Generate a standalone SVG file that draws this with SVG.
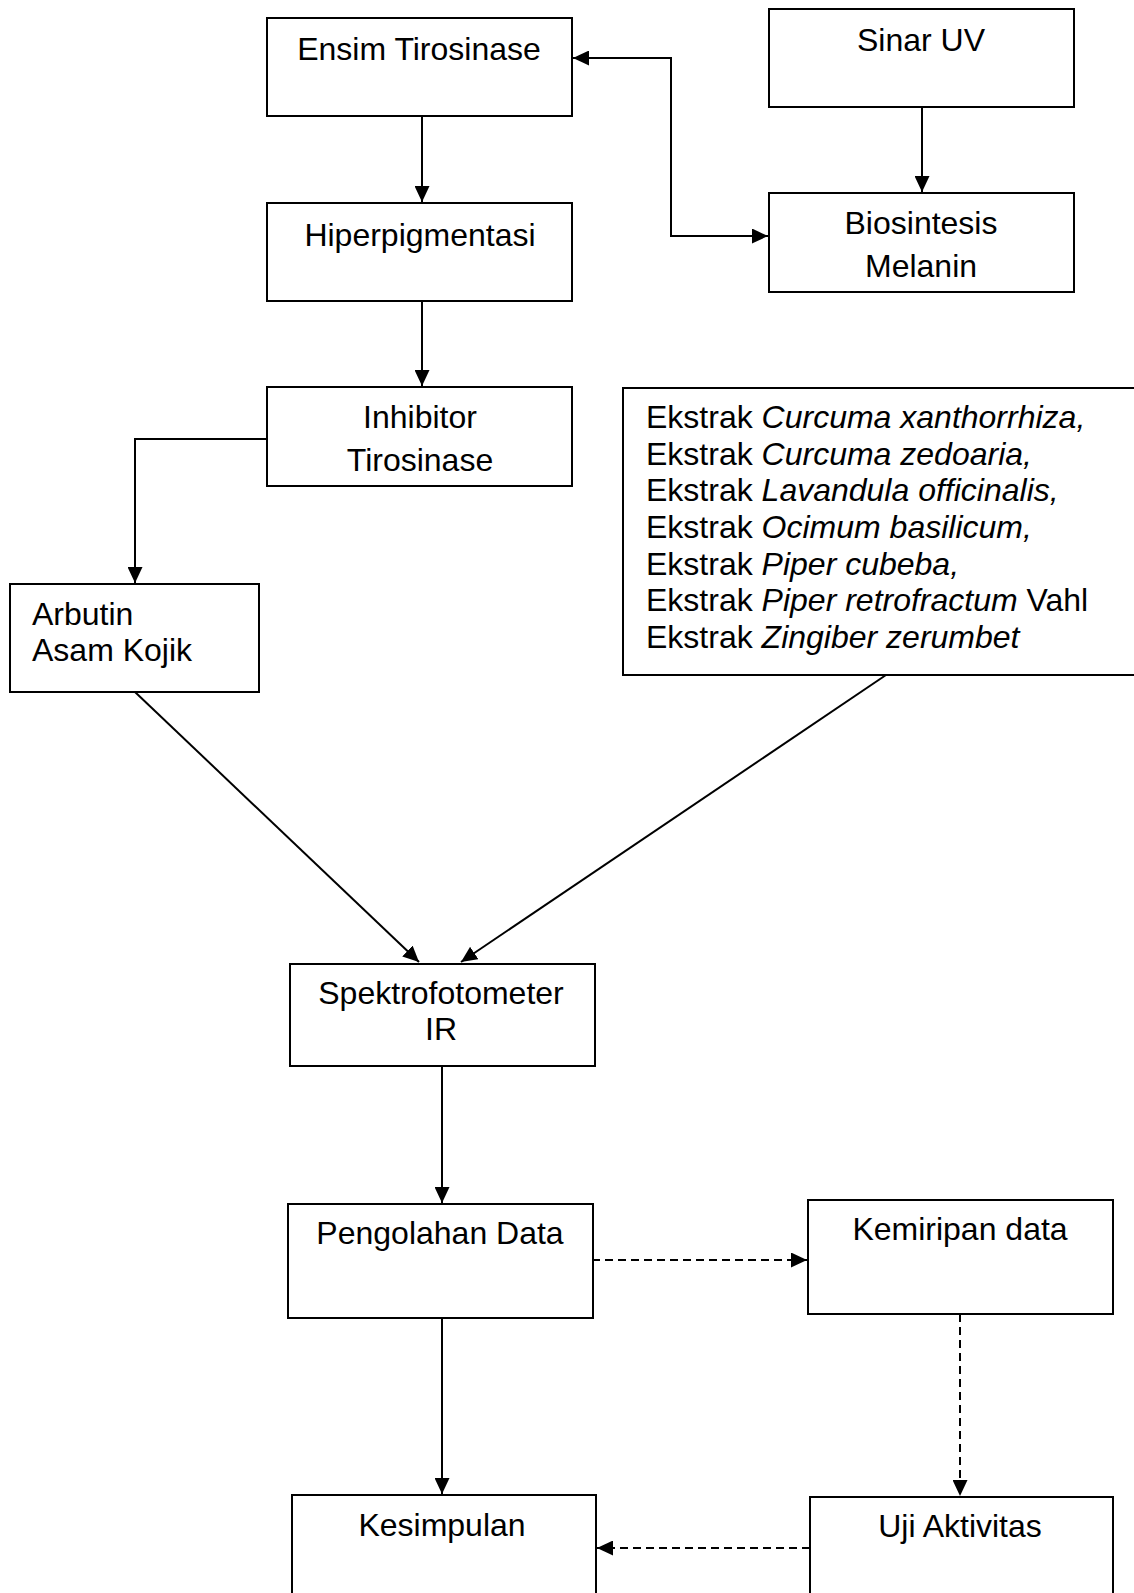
<svg xmlns="http://www.w3.org/2000/svg" width="1134" height="1593" viewBox="0 0 1134 1593">
<style>
.box{fill:#fff;stroke:#000;stroke-width:2}
.t{font-family:"Liberation Sans",Arial,sans-serif;font-size:32px;fill:#000}
.c{text-anchor:middle}
.ln{fill:none;stroke:#000;stroke-width:2}
.d{stroke-dasharray:8 5}
.i{font-style:italic}
</style>
<defs>
<marker id="ah" markerUnits="userSpaceOnUse" markerWidth="16" markerHeight="15" refX="16" refY="7.5" orient="auto-start-reverse">
<path d="M0,0 L16,7.5 L0,15 z" fill="#000"/>
</marker>
</defs>
<rect width="1134" height="1593" fill="#fff"/>
<g id="connectors">
<path class="ln" d="M422 116 V202" marker-end="url(#ah)"/>
<path class="ln" d="M422 301 V386" marker-end="url(#ah)"/>
<path class="ln" d="M922 107 V192" marker-end="url(#ah)"/>
<path class="ln" d="M573 58 H671 V236 H768" marker-start="url(#ah)" marker-end="url(#ah)"/>
<path class="ln" d="M267 439 H135 V583" marker-end="url(#ah)"/>
<path class="ln" d="M135 692 L419 962" marker-end="url(#ah)"/>
<path class="ln" d="M886 675 L461 962" marker-end="url(#ah)"/>
<path class="ln" d="M442 1065 V1203" marker-end="url(#ah)"/>
<path class="ln d" d="M592 1260 H807" marker-end="url(#ah)"/>
<path class="ln d" d="M960 1314 V1496" marker-end="url(#ah)"/>
<path class="ln" d="M442 1318 V1494" marker-end="url(#ah)"/>
<path class="ln d" d="M810 1548 H597" marker-end="url(#ah)"/>
</g>
<g id="ensim">
<rect class="box" x="267" y="18" width="305" height="98"/>
<text class="t c" x="419" y="60">Ensim Tirosinase</text>
</g>
<g id="sinar">
<rect class="box" x="769" y="9" width="305" height="98"/>
<text class="t c" x="921" y="51">Sinar UV</text>
</g>
<g id="hiper">
<rect class="box" x="267" y="203" width="305" height="98"/>
<text class="t c" x="420" y="246">Hiperpigmentasi</text>
</g>
<g id="bio">
<rect class="box" x="769" y="193" width="305" height="99"/>
<text class="t c" x="921" y="234">Biosintesis</text>
<text class="t c" x="921" y="277">Melanin</text>
</g>
<g id="inhib">
<rect class="box" x="267" y="387" width="305" height="99"/>
<text class="t c" x="420" y="428">Inhibitor</text>
<text class="t c" x="420" y="471">Tirosinase</text>
</g>
<g id="arbutin">
<rect class="box" x="10" y="584" width="249" height="108"/>
<text class="t" x="32" y="625">Arbutin</text>
<text class="t" x="32" y="661">Asam Kojik</text>
</g>
<g id="ekstrak">
<rect class="box" x="623" y="388" width="530" height="287"/>
<text class="t" x="646" y="428">Ekstrak <tspan class="i">Curcuma xanthorrhiza,</tspan></text>
<text class="t" x="646" y="465">Ekstrak <tspan class="i">Curcuma zedoaria,</tspan></text>
<text class="t" x="646" y="501">Ekstrak <tspan class="i">Lavandula officinalis,</tspan></text>
<text class="t" x="646" y="538">Ekstrak <tspan class="i">Ocimum basilicum,</tspan></text>
<text class="t" x="646" y="575">Ekstrak <tspan class="i">Piper cubeba,</tspan></text>
<text class="t" x="646" y="611">Ekstrak <tspan class="i">Piper retrofractum</tspan> Vahl</text>
<text class="t" x="646" y="648">Ekstrak <tspan class="i">Zingiber zerumbet</tspan></text>
</g>
<g id="spektro">
<rect class="box" x="290" y="964" width="305" height="102"/>
<text class="t c" x="441" y="1004">Spektrofotometer</text>
<text class="t c" x="441" y="1040">IR</text>
</g>
<g id="pengolahan">
<rect class="box" x="288" y="1204" width="305" height="114"/>
<text class="t c" x="440" y="1244">Pengolahan Data</text>
</g>
<g id="kemiripan">
<rect class="box" x="808" y="1200" width="305" height="114"/>
<text class="t c" x="960" y="1240">Kemiripan data</text>
</g>
<g id="kesimpulan">
<rect class="box" x="292" y="1495" width="304" height="120"/>
<text class="t c" x="442" y="1536">Kesimpulan</text>
</g>
<g id="uji">
<rect class="box" x="810" y="1497" width="303" height="120"/>
<text class="t c" x="960" y="1537">Uji Aktivitas</text>
</g>
</svg>
